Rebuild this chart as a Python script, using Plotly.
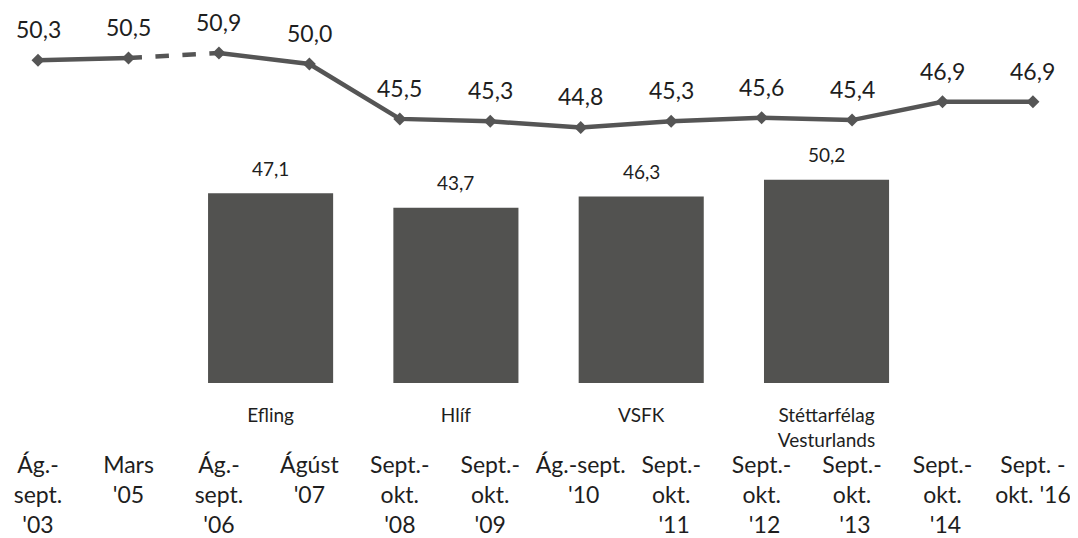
import plotly.graph_objects as go

periods = ["Ág.-<br>sept.<br>'03", "Mars<br>'05", "Ág.-<br>sept.<br>'06", "Ágúst<br>'07",
           "Sept.-<br>okt.<br>'08", "Sept.-<br>okt.<br>'09", "Ág.-sept.<br> '10",
           "Sept.-<br>okt.<br> '11", "Sept.-<br>okt.<br> '12", "Sept.-<br>okt.<br> '13",
           "Sept.-<br>okt.<br> '14", "Sept. -<br>okt. '16"]
values = [50.3, 50.5, 50.9, 50.0, 45.5, 45.3, 44.8, 45.3, 45.6, 45.4, 46.9, 46.9]

unions = ["Efling", "Hlíf", "VSFK", "Stéttarfélag<br>Vesturlands"]
union_values = [47.1, 43.7, 46.3, 50.2]

LINE = "#555555"
BAR = "#525250"
TXT = "#1e1e1e"
FONT = "Lato"

def fmt(v):
    return f"{v:.1f}".replace(".", ",")

fig = go.Figure()

fig.add_trace(go.Bar(x=unions, y=union_values, xaxis="x2", yaxis="y2",
                     marker=dict(color=BAR, line=dict(width=0)), width=0.675,
                     hoverinfo="skip", showlegend=False))

fig.add_trace(go.Scatter(x=periods[0:2], y=values[0:2], xaxis="x", yaxis="y", mode="lines",
                         line=dict(color=LINE, width=4.5), showlegend=False))
fig.add_trace(go.Scatter(x=periods[1:3], y=values[1:3], xaxis="x", yaxis="y", mode="lines",
                         line=dict(color=LINE, width=4.5, dash="dash"), showlegend=False))
fig.add_trace(go.Scatter(x=periods[2:], y=values[2:], xaxis="x", yaxis="y", mode="lines",
                         line=dict(color=LINE, width=4.5), showlegend=False))
fig.add_trace(go.Scatter(x=periods, y=values, xaxis="x", yaxis="y", mode="markers",
                         marker=dict(symbol="diamond", size=10, color=LINE), showlegend=False))

annotations = []
for p, v in zip(periods, values):
    annotations.append(dict(x=p, y=v, xref="x", yref="y", text=fmt(v), showarrow=False,
                            yshift=31, font=dict(size=23, color=TXT, family=FONT)))
for u, v in zip(unions, union_values):
    annotations.append(dict(x=u, y=v, xref="x2", yref="y2", text=fmt(v), showarrow=False,
                            yshift=25, font=dict(size=19, color=TXT, family=FONT)))

fig.update_layout(
    width=1070, height=530,
    margin=dict(l=0, r=0, t=0, b=155),
    paper_bgcolor="white", plot_bgcolor="white",
    font=dict(family=FONT, color=TXT),
    annotations=annotations,
    xaxis=dict(type="category", range=[-0.332, 11.498], showgrid=False, zeroline=False,
               showline=False, ticks="", tickfont=dict(size=23, color=TXT, family=FONT),
               ticklabelstandoff=66, fixedrange=True),
    xaxis2=dict(type="category", overlaying="x", side="bottom", anchor="y2",
                range=[-1.417, 4.357], showgrid=False, zeroline=False, showline=False,
                ticks="", tickfont=dict(size=19, color=TXT, family=FONT),
                ticklabelstandoff=19),
    yaxis=dict(range=[23.85, 54.59], showgrid=False, zeroline=False, showline=False,
               showticklabels=False, ticks=""),
    yaxis2=dict(range=[3.05, 90.06], overlaying="y", anchor="x2", showgrid=False,
                zeroline=False, showline=False, showticklabels=False, ticks=""),
)

fig.write_html("out.html")
